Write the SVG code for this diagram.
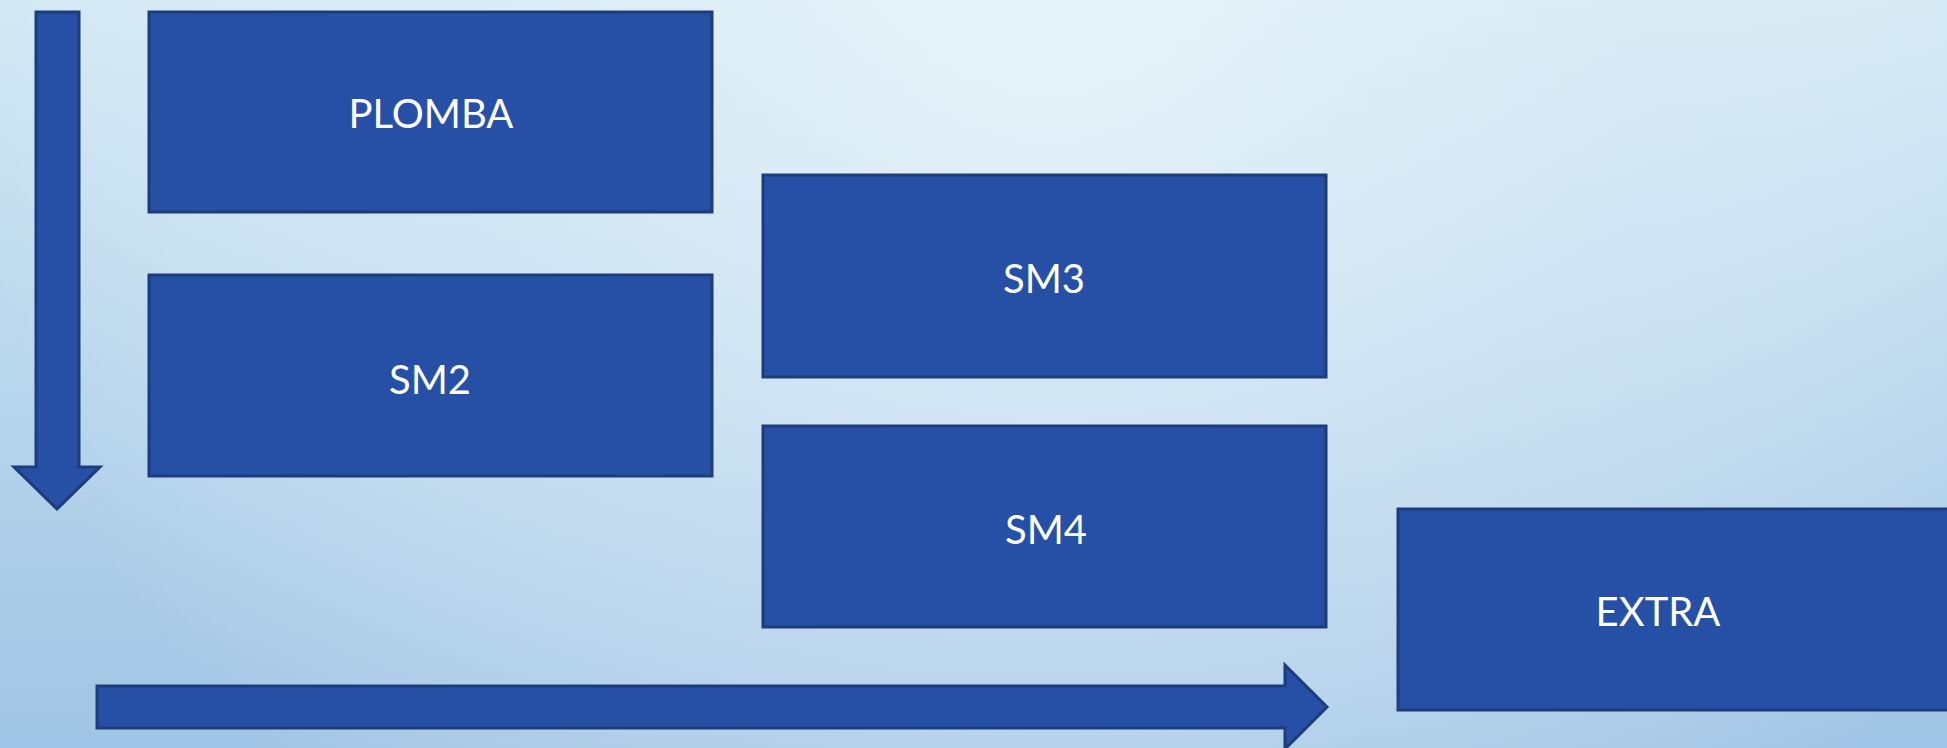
<svg xmlns="http://www.w3.org/2000/svg" width="1947" height="748" viewBox="0 0 1947 748">
<defs>
<linearGradient id="bg" x1="0" y1="0" x2="0" y2="1">
<stop offset="0" stop-color="#d1e8f3"/>
<stop offset="1" stop-color="#a0c4e5"/>
</linearGradient>
<radialGradient id="hl" gradientUnits="userSpaceOnUse" cx="1050" cy="0" r="1100">
<stop offset="0" stop-color="#eaf4fa" stop-opacity="0.85"/>
<stop offset="0.55" stop-color="#e6f2f9" stop-opacity="0.4"/>
<stop offset="1" stop-color="#ffffff" stop-opacity="0"/>
</radialGradient>
<style>
.box{fill:#2650a6;stroke:#1c3c7c;stroke-width:3}
.lbl{font-family:Lato,"Liberation Sans",sans-serif;font-size:40px;fill:#ffffff;text-anchor:middle}
.arr{fill:#2650a6;stroke:#1c3c7c;stroke-width:3;stroke-linejoin:miter}
</style>
</defs>
<rect x="0" y="0" width="1947" height="748" fill="url(#bg)"/>
<rect x="0" y="0" width="1947" height="748" fill="url(#hl)"/>
<g id="connectors">
<path class="arr" d="M36,12 L79,12 L79,467 L100,467 L57,509 L14,467 L36,467 Z"/>
<path class="arr" d="M97,686 L1285,686 L1285,665 L1327,707 L1285,749 L1285,728 L97,728 Z"/>
</g>
<g id="plomba"><rect class="box" x="149" y="12" width="563" height="200"/><text class="lbl" x="431" y="128">PLOMBA</text></g>
<g id="sm2"><rect class="box" x="149" y="275" width="563" height="201"/><text class="lbl" x="430" y="394">SM2</text></g>
<g id="sm3"><rect class="box" x="763" y="175" width="563" height="202"/><text class="lbl" x="1044" y="293">SM3</text></g>
<g id="sm4"><rect class="box" x="763" y="426" width="563" height="201"/><text class="lbl" x="1046" y="544">SM4</text></g>
<g id="extra"><rect class="box" x="1398" y="509" width="563" height="201"/><text class="lbl" x="1658" y="626">EXTRA</text></g>
</svg>
